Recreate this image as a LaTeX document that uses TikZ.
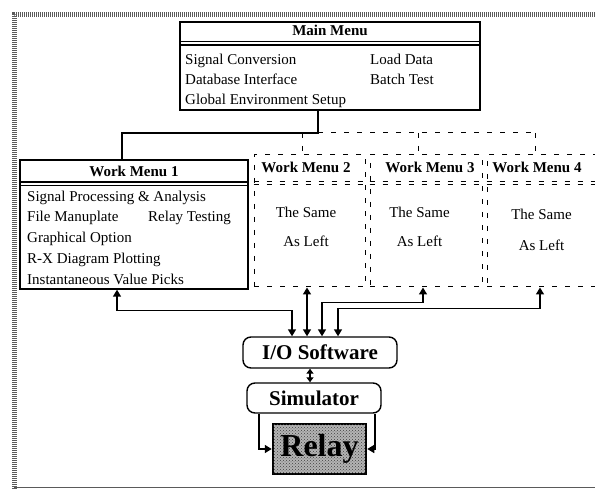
\documentclass[tikz,border=0pt]{standalone}
\usepackage{fontspec}
\setmainfont{Liberation Serif}
\usetikzlibrary{arrows.meta,positioning,patterns}
\definecolor{scan}{HTML}{5A5A5A}
\definecolor{relayfill}{HTML}{B4B4B4}
\tikzset{
  menu/.style={draw, line width=1.4pt, inner sep=0pt},
  ghost/.style={draw, line width=1pt, dash pattern=on 5pt off 8pt, inner sep=0pt},
  head/.style={inner sep=0pt, anchor=base, font=\fontsize{15}{15}\selectfont\bfseries},
  item/.style={inner sep=0pt, anchor=base west, font=\fontsize{15}{15}\selectfont},
  plain/.style={inner sep=0pt, anchor=base, font=\fontsize{15}{15}\selectfont},
  unit/.style={draw, rounded corners=8pt, line width=1.4pt, inner sep=0pt, font=\fontsize{21}{21}\selectfont\bfseries},
  rule/.style={line width=1.1pt},
  tree/.style={line width=1.4pt},
  treedash/.style={line width=1pt, dash pattern=on 5pt off 8pt},
  link/.style={line width=1.5pt, -{Triangle[length=7pt,width=8pt]}},
  biedge/.style={line width=1.5pt, {Triangle[length=7pt,width=8pt]}-{Triangle[length=7pt,width=8pt]}},
  frame/.style={line width=5pt, scan, dash pattern=on 1pt off 1pt},
}

\begin{document}
\begin{tikzpicture}[x=1pt,y=-1pt]
  \clip (0,0) rectangle (595,489);
  % scanned border
  \draw[frame] (14,489) -- (14,14.5) -- (595,14.5);
  \draw[scan, line width=1pt] (14,487.5) -- (595,487.5);

  % main menu
  \node[menu, minimum width=300pt, minimum height=88pt] (main) at (330,66) {};
  \node[head] (mainT) at (330,36) {Main Menu};
  \draw[rule] (main.west |- 0,41.5) -- (main.east |- 0,41.5);
  \draw[rule] (main.west |- 0,45) -- (main.east |- 0,45);
  \node[item] (mainA) at (185,65) {Signal Conversion};
  \node[item] (mainB) at (185,85) {Database Interface};
  \node[item] (mainC) at (185,105) {Global Environment Setup};
  \node[item] (mainD) at (370,65) {Load Data};
  \node[item] (mainE) at (370,85) {Batch Test};

  % work menu 1
  \node[menu, minimum width=228pt, minimum height=129pt] (wm1) at (134,224.5) {};
  \node[head] (wm1T) at (134,177) {Work Menu 1};
  \draw[rule] (wm1.west |- 0,182) -- (wm1.east |- 0,182);
  \draw[rule] (wm1.west |- 0,185.5) -- (wm1.east |- 0,185.5);
  \node[item] (wm1A) at (27,202) {Signal Processing \& Analysis};
  \node[item] (wm1B) at (27,222) {File Manuplate};
  \node[item] (wm1C) at (148,222) {Relay Testing};
  \node[item] (wm1D) at (27,243) {Graphical Option};
  \node[item] (wm1E) at (27,264) {R-X Diagram Plotting};
  \node[item] (wm1F) at (27,285) {Instantaneous Value Picks};

  % work menus 2-4 (dashed)
  \foreach \n/\cx/\w/\tx/\sx/\sy/\ly in {2/309.5/111/306/306/218/247,
      3/426/112/430/419.5/218/247, 4/543.5/113/537/541.5/220/251} {
    \node[ghost, minimum width=\w pt, minimum height=132pt] (wm\n) at (\cx,221) {};
    \node[head] (title\n) at (\tx,173) {Work Menu \n};
    \draw[ghost] (wm\n.west |- 0,182) -- (wm\n.east |- 0,182);
    \draw[ghost] (wm\n.west |- 0,184.5) -- (wm\n.east |- 0,184.5);
    \node[plain] (same\n) at (\sx,\sy) {The Same};
    \node[plain] (left\n) at (\sx,\ly) {As Left};
  }

  % tree from main menu
  \coordinate (tap) at (318,133);
  \coordinate (drop) at (122,133);
  \coordinate (tapend) at (535,133);
  \draw[tree] (main.south -| tap) -- (tap) -- (drop) -- (drop |- wm1.north);
  \draw[treedash] (tap) -- (tapend);
  \foreach \x/\n in {302/2,418/3,535/4}
    \draw[treedash] (tap -| \x,0) -- (wm\n.north -| \x,0);

  % hardware chain
  \node[unit, minimum width=154pt, minimum height=31pt] (io) at (320,352.5) {I/O Software};
  \node[unit, minimum width=134pt, minimum height=30pt] (sim) at (314,398) {Simulator};
  \node[draw, line width=2.5pt, minimum width=93pt, minimum height=50pt, inner sep=0pt,
        fill=relayfill, postaction={pattern=crosshatch dots, pattern color=black!75},
        font=\fontsize{32}{32}\selectfont\bfseries] (relay) at (319.5,449) {Relay};

  % links
  \draw[biedge] (wm1.south -| 117,0) -- ++(0,21) -| (io.north -| 292,0);
  \draw[biedge] (wm2.south -| 307,0) -- (io.north -| 307,0);
  \draw[biedge] (io.north -| 322,0) -- ++(0,-34) -| (wm3.south -| 423,0);
  \draw[biedge] (io.north -| 338,0) -- ++(0,-28) -| (wm4.south -| 540,0);
  \draw[line width=1.5pt, {Triangle[length=5pt,width=7pt]}-{Triangle[length=5pt,width=7pt]}]
    (io.south -| 310,0) -- (sim.north -| 310,0);
  \draw[link] (sim.south -| 259,0) |- (relay.west);
  \draw[link] (sim.south -| 375,0) |- (relay.east);
\end{tikzpicture}
\end{document}
